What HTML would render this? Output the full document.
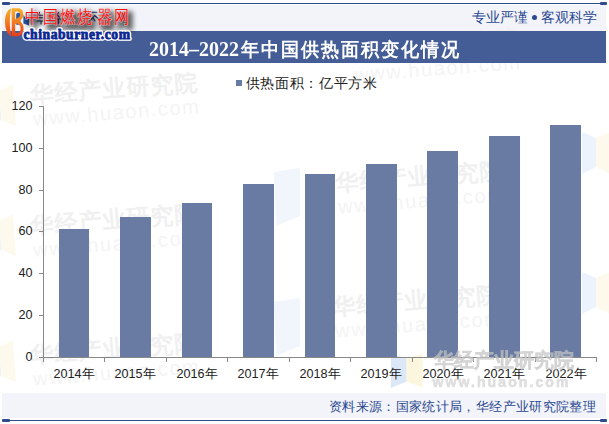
<!DOCTYPE html>
<html><head><meta charset="utf-8">
<style>
html,body{margin:0;padding:0;}
body{width:609px;height:424px;overflow:hidden;background:#fff;position:relative;font-family:"Liberation Sans",sans-serif;}
.abs{position:absolute;}
#hdrbg{left:2px;top:5px;width:604px;height:26px;background:#f2f4f9;}
#topline{left:2px;top:3px;width:605px;height:1px;background:#2f4b8e;}
#tl1{left:2px;top:2px;width:8px;height:3px;background:#2f4b8e;border-radius:1px;}
#tl2{left:600px;top:2px;width:7px;height:3px;background:#2f4b8e;border-radius:1px;}
#band{left:2px;top:31px;width:604px;height:32px;background:#445d96;}
#title{left:0;top:31px;width:609px;height:31px;line-height:31px;text-align:left;color:#fff;font-family:"Liberation Serif",serif;font-weight:bold;font-size:20px;white-space:nowrap;}
#title span{position:absolute;left:149px;top:2.5px;transform:scaleY(1.05);}
#slogan{left:473px;top:8.5px;font-size:13.5px;color:#2a4790;white-space:nowrap;line-height:18px;}
#ftbg{left:2px;top:393px;width:604px;height:25px;background:#f2f4f9;}
#botline{left:2px;top:420px;width:605px;height:1px;background:#2f4b8e;}
#bl1{left:2px;top:419px;width:8px;height:3px;background:#2f4b8e;border-radius:1px;}
#bl2{left:600px;top:419px;width:7px;height:3px;background:#2f4b8e;border-radius:1px;}
#source{left:329px;top:398.5px;font-size:12.8px;letter-spacing:0.35px;color:#2a4790;white-space:nowrap;line-height:16px;}
svg{position:absolute;left:0;top:0;}
</style></head><body>
<div class="abs" id="hdrbg"></div>
<div class="abs" id="topline"></div>
<div class="abs" id="tl1"></div>
<div class="abs" id="tl2"></div>

<svg width="609" height="424" viewBox="0 0 609 424" style="position:absolute;left:0;top:0;">
  <defs>
    <g id="wmt">
      <text x="0" y="0" font-family="Liberation Sans, sans-serif" font-weight="bold" font-size="23" letter-spacing="1" fill="#f0f0f0">华经产业研究院</text>
      <text x="1" y="23" font-family="Liberation Sans, sans-serif" font-size="20" letter-spacing="1.6" fill="#f4f4f4">www.huaon.com</text>
    </g>
    <g id="wml">
      <path d="M0,0 L14,6 L14,35 L0,42 Z" fill="#edf3fc"/>
      <path d="M14,6 L28,0 L28,42 L14,35 Z" fill="#fdf9ec"/>
    </g>
  </defs>
  <use href="#wml" transform="translate(-15,86) rotate(-4)"/>
  <use href="#wml" transform="translate(-15,216) rotate(-4)"/>
  <use href="#wml" transform="translate(-15,342) rotate(-4)"/>
  <use href="#wmt" transform="translate(31,103) rotate(-4.5)"/>
  <use href="#wmt" transform="translate(31,234) rotate(-4.5)"/>
  <use href="#wmt" transform="translate(31,363) rotate(-4.5)"/>
  <use href="#wmt" transform="translate(352,59) rotate(-4.5)"/>
  <path d="M274,172 L300,168 L300,216 L276,226 Z" fill="#f1f5fc"/>
  <path d="M274,302 L300,298 L300,346 L276,356 Z" fill="#f1f5fc"/>
  <use href="#wmt" transform="translate(336,191) rotate(-4.5)"/>
  <use href="#wmt" transform="translate(333,315) rotate(-4.5)"/>
  <use href="#wml" transform="translate(582,132)"/>
  <use href="#wml" transform="translate(582,272)"/>
  <path d="M391,353.4 L406.6,358.4 L406.6,381.6 L391,388 Z" fill="#dce8f8"/>
  <path d="M406.6,358.4 L422.5,353.4 L422.5,387.5 L406.6,381.6 Z" fill="#fdf6de"/>
</svg>
<div class="abs" id="band"></div>
<div class="abs" id="title"><span>2014–2022<b style="position:relative;top:0px;font-size:18px;letter-spacing:2px;margin-left:2px;">年中国供热面积变化情况</b></span></div>

<svg width="140" height="44" viewBox="0 0 140 44" style="position:absolute;left:0;top:0;">
  <defs>
    <linearGradient id="og" x1="0" y1="0" x2="0" y2="1">
      <stop offset="0" stop-color="#f6b02a"/>
      <stop offset="0.5" stop-color="#f27d20"/>
      <stop offset="1" stop-color="#ea3b18"/>
    </linearGradient>
    <filter id="sh" x="-20%" y="-40%" width="140%" height="200%">
      <feGaussianBlur stdDeviation="2.6"/>
    </filter>
  </defs>
  <!-- C -->
  <path d="M11,8.5 C6.8,10 5,15.5 5,22 C5,28.5 7,34 11,36.2 L10.8,32.5 C10.1,30 9.9,26 9.9,22 C9.9,17.5 10.1,13.5 10.8,11.5 Z" fill="url(#og)"/>
  <!-- blue -->
  <path d="M16.2,14 C17,12.7 19.5,12.3 20.4,13.5 L20.4,22 L19,24.8 L16.2,24.8 Z" fill="#2b56a3"/>
  <path d="M23.4,14.8 L26.5,19.5 L29,18 L29,25.6 L23.4,23.6 Z" fill="#2b56a3"/>
  <!-- B -->
  <path d="M11.7,8.3 L18,8.3 C21.5,8.3 23.2,10.8 23.2,14.3 C23.2,17.5 21.8,19.8 19.8,21 C22.3,22.5 23.6,25.5 23.6,28.6 C23.6,33 21,36.3 17.5,36.3 L11.7,36.3 Z M15.2,11.6 L15.2,19.2 C17.5,18.4 19.2,17.6 20.2,15.6 C20.2,13.2 19,11.6 17.5,11.6 Z M15.2,24 L15.2,33 L17,33 C19.5,33 20.5,31 20.5,28.5 C20.5,26 19.3,24 17,23.5 Z" fill="url(#og)" fill-rule="evenodd"/>
  <!-- underlying navy glyphs -->
  <g stroke="#1d3476" stroke-width="1.1" fill="none" stroke-linecap="round">
    <path d="M39.5,12.2 L38.3,15.2 L42.5,15.2 M38.6,17.8 L42.6,17.8 M37.2,21 L42.8,21 M41,21 L41,24"/>
    <path d="M58.5,12.5 L56.8,15 L59.5,17 M57.2,19 L60,19 M58.2,19 L58.2,23.5"/>
    <path d="M92.2,12.3 L96.8,12.3 M90.2,20.5 L94.8,15.5 L97.8,18.5 M93,18 L95,21"/>
  </g>
  <!-- shadow -->
<g filter="url(#sh)" opacity="0.6"><g font-family="Liberation Serif, serif" font-size="18" font-weight="bold" stroke="#000" stroke-width="2.5"><text x="33.9" y="27.3" transform="scale(0.84,1)" fill="#000">中</text><text x="55.4" y="27.3" transform="scale(0.84,1)" fill="#000">国</text><text x="75.6" y="27.3" transform="scale(0.84,1)" fill="#000">燃</text><text x="95.8" y="27.3" transform="scale(0.84,1)" fill="#000">烧</text><text x="119.4" y="27.3" transform="scale(0.84,1)" fill="#000">器</text><text x="140.1" y="27.3" transform="scale(0.84,1)" fill="#000">网</text></g></g>
<g font-family="Liberation Serif, serif" font-size="18" font-weight="300" stroke="#fff" stroke-width="1.2" stroke-opacity="0.5" paint-order="stroke"><text x="29.8" y="22.8" transform="scale(0.84,1)" fill="#ff1010">中</text><text x="51.2" y="22.8" transform="scale(0.84,1)" fill="#ff1010">国</text><text x="71.4" y="22.8" transform="scale(0.84,1)" fill="#ff1010">燃</text><text x="91.7" y="22.8" transform="scale(0.84,1)" fill="#ff1010">烧</text><text x="115.2" y="22.8" transform="scale(0.84,1)" fill="#ff1010">器</text><text x="136.0" y="22.8" transform="scale(0.84,1)" fill="#ff1010">网</text></g>
<text x="23.5" y="38.6" font-family="Liberation Serif, serif" font-weight="bold" font-size="13.6" letter-spacing="0.55" fill="#fff" stroke="#fff" stroke-width="3.6" stroke-linejoin="round">chinaburner.com</text><text x="23.5" y="38.6" font-family="Liberation Serif, serif" font-weight="bold" font-size="13.6" letter-spacing="0.55" fill="#0c2891" stroke="#0c2891" stroke-width="0.8" stroke-linejoin="round">chinaburner.com</text>
</svg>
<div class="abs" id="slogan" style="left:472px;">专业严谨</div><div class="abs" style="left:532px;top:15px;width:5px;height:5px;border-radius:50%;background:#2a4790;"></div><div class="abs" id="slogan" style="left:541px;">客观科学</div>
<div class="abs" id="ftbg"></div>
<div class="abs" id="botline"></div>
<div class="abs" id="bl1"></div>
<div class="abs" id="bl2"></div>
<div class="abs" id="source">资料来源：国家统计局，华经产业研究院整理</div>

<svg width="609" height="424" viewBox="0 0 609 424" style="top:0;left:0;">
  <!-- axes -->
  <g stroke="#888" stroke-width="1" fill="none" shape-rendering="crispEdges">
    <line x1="43.5" y1="106" x2="43.5" y2="362"/>
    <line x1="39" y1="357.5" x2="597" y2="357.5"/>
    <line x1="39" y1="106.5" x2="43" y2="106.5"/>
    <line x1="39" y1="148.5" x2="43" y2="148.5"/>
    <line x1="39" y1="190.5" x2="43" y2="190.5"/>
    <line x1="39" y1="231.5" x2="43" y2="231.5"/>
    <line x1="39" y1="273.5" x2="43" y2="273.5"/>
    <line x1="39" y1="315.5" x2="43" y2="315.5"/>
    <line x1="104.5" y1="357" x2="104.5" y2="362"/>
    <line x1="166.5" y1="357" x2="166.5" y2="362"/>
    <line x1="227.5" y1="357" x2="227.5" y2="362"/>
    <line x1="289.5" y1="357" x2="289.5" y2="362"/>
    <line x1="350.5" y1="357" x2="350.5" y2="362"/>
    <line x1="412.5" y1="357" x2="412.5" y2="362"/>
    <line x1="473.5" y1="357" x2="473.5" y2="362"/>
    <line x1="535.5" y1="357" x2="535.5" y2="362"/>
    <line x1="596.5" y1="357" x2="596.5" y2="362"/>
  </g>
  <g fill="#697ba3">
    <rect x="59" y="229" width="30" height="128"/>
    <rect x="120" y="217" width="31" height="140"/>
    <rect x="182" y="203" width="30" height="154"/>
    <rect x="243" y="184" width="31" height="173"/>
    <rect x="305" y="174" width="30" height="183"/>
    <rect x="366" y="164" width="31" height="193"/>
    <rect x="427" y="151" width="31" height="206"/>
    <rect x="489" y="136" width="31" height="221"/>
    <rect x="550" y="125" width="31" height="232"/>
  </g>
  <g font-family="Liberation Sans, sans-serif" font-size="12.6" fill="#222" text-anchor="end">
    <text x="32.6" y="109.7">120</text>
    <text x="32.6" y="151.7">100</text>
    <text x="32.6" y="193.7">80</text>
    <text x="32.6" y="234.7">60</text>
    <text x="32.6" y="276.7">40</text>
    <text x="32.6" y="318.7">20</text>
    <text x="32.6" y="360.7">0</text>
  </g>
  <g font-family="Liberation Sans, sans-serif" font-size="12.6" fill="#222" text-anchor="middle">
    <text x="74" y="377.8">2014年</text>
    <text x="135" y="377.8">2015年</text>
    <text x="197" y="377.8">2016年</text>
    <text x="258" y="377.8">2017年</text>
    <text x="320" y="377.8">2018年</text>
    <text x="381" y="377.8">2019年</text>
    <text x="443" y="377.8">2020年</text>
    <text x="504" y="377.8">2021年</text>
    <text x="566" y="377.8">2022年</text>
  </g>
  <rect x="236" y="80" width="6" height="6" fill="#697ba3"/>
  <text x="245.5" y="88" font-family="Liberation Sans, sans-serif" font-size="14" letter-spacing="0.7" fill="#222">供热面积：亿平方米</text>
</svg>
<svg width="609" height="424" viewBox="0 0 609 424" style="position:absolute;left:0;top:0;">
  <g opacity="0.72">
  <text x="434" y="367" font-family="Liberation Sans, sans-serif" font-weight="bold" font-size="20" fill="#c4c4c4" stroke="#c4c4c4" stroke-width="0.5">华经产业研究院</text>
  <text x="432.5" y="387" font-family="Liberation Sans, sans-serif" font-weight="bold" font-size="14" letter-spacing="2.1" fill="#d2d2d2" stroke="#d2d2d2" stroke-width="0.6">www.huaon.com</text>
  </g>
</svg>
</body></html>
